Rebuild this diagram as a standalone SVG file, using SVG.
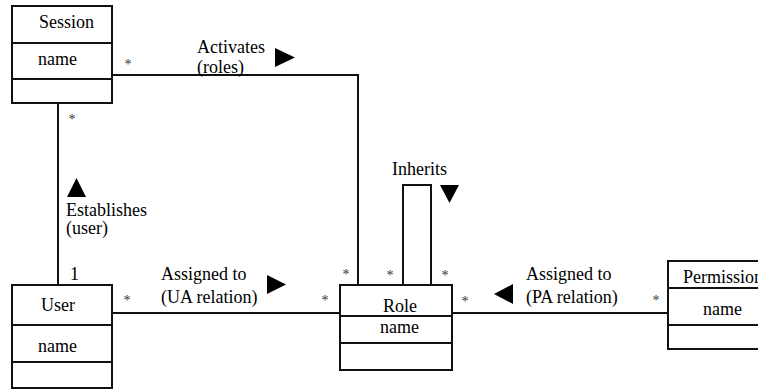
<svg xmlns="http://www.w3.org/2000/svg" width="758" height="390" viewBox="0 0 758 390">
<style>
.box{fill:#fff;stroke:#111;stroke-width:2}
.div{stroke:#111;stroke-width:2}
.t{font-family:'Liberation Serif','DejaVu Serif','Times New Roman',serif;font-size:18px;fill:#000}
.m{font-family:'Liberation Serif','DejaVu Serif',serif;font-size:14px;fill:#333;text-anchor:middle}
.c{fill:none;stroke:#111;stroke-width:2}
.arr{fill:#000}
</style>
<rect width="758" height="390" fill="#fff"/>
<g id="connectors">
<polyline class="c" points="112,75 358,75 358,285"/>
<line class="c" x1="58" y1="103" x2="58" y2="285"/>
<line class="c" x1="112" y1="313" x2="340" y2="313"/>
<line class="c" x1="452" y1="313" x2="668" y2="313"/>
<polyline class="c" points="403,285 403,185 431,185 431,285"/>
<polygon class="arr" points="275,48 295,57.5 275,67"/>
<polygon class="arr" points="76.5,178 86,197 67,197"/>
<polygon class="arr" points="267,275 286,284.5 267,294"/>
<polygon class="arr" points="440,185 459,185 449.5,203"/>
<polygon class="arr" points="513,284 494,294 513,304"/>
<text class="t" x="197" y="53">Activates</text>
<text class="t" x="197" y="73">(roles)</text>
<text class="t" x="66" y="216">Establishes</text>
<text class="t" x="66" y="234">(user)</text>
<text class="t" x="70" y="280">1</text>
<text class="t" x="161" y="280">Assigned to</text>
<text class="t" x="161" y="303">(UA relation)</text>
<text class="t" x="392" y="175">Inherits</text>
<text class="t" x="526" y="280">Assigned to</text>
<text class="t" x="526" y="303">(PA relation)</text>
<text class="m" x="128" y="69">*</text>
<text class="m" x="72" y="124">*</text>
<text class="m" x="346" y="279">*</text>
<text class="m" x="325" y="305">*</text>
<text class="m" x="127" y="305">*</text>
<text class="m" x="390" y="280">*</text>
<text class="m" x="445" y="280">*</text>
<text class="m" x="465" y="306">*</text>
<text class="m" x="656" y="305">*</text>
</g>
<g id="session">
<rect class="box" x="12" y="6" width="100" height="97"/>
<line class="div" x1="12" y1="43" x2="112" y2="43"/>
<line class="div" x1="12" y1="79" x2="112" y2="79"/>
<text class="t" x="39" y="28">Session</text>
<text class="t" x="38" y="65">name</text>
</g>
<g id="user">
<rect class="box" x="12" y="285" width="100" height="103"/>
<line class="div" x1="12" y1="325" x2="112" y2="325"/>
<line class="div" x1="12" y1="362" x2="112" y2="362"/>
<text class="t" x="41" y="311">User</text>
<text class="t" x="38" y="352">name</text>
</g>
<g id="role">
<rect class="box" x="340" y="285" width="112" height="85"/>
<line class="div" x1="340" y1="316" x2="452" y2="316"/>
<line class="div" x1="340" y1="343" x2="452" y2="343"/>
<text class="t" x="383" y="312">Role</text>
<text class="t" x="380" y="333">name</text>
</g>
<g id="permission">
<rect class="box" x="668" y="261" width="112" height="88"/>
<line class="div" x1="668" y1="288" x2="780" y2="288"/>
<line class="div" x1="668" y1="325" x2="780" y2="325"/>
<text class="t" x="683" y="283">Permission</text>
<text class="t" x="703" y="315">name</text>
</g>
</svg>
